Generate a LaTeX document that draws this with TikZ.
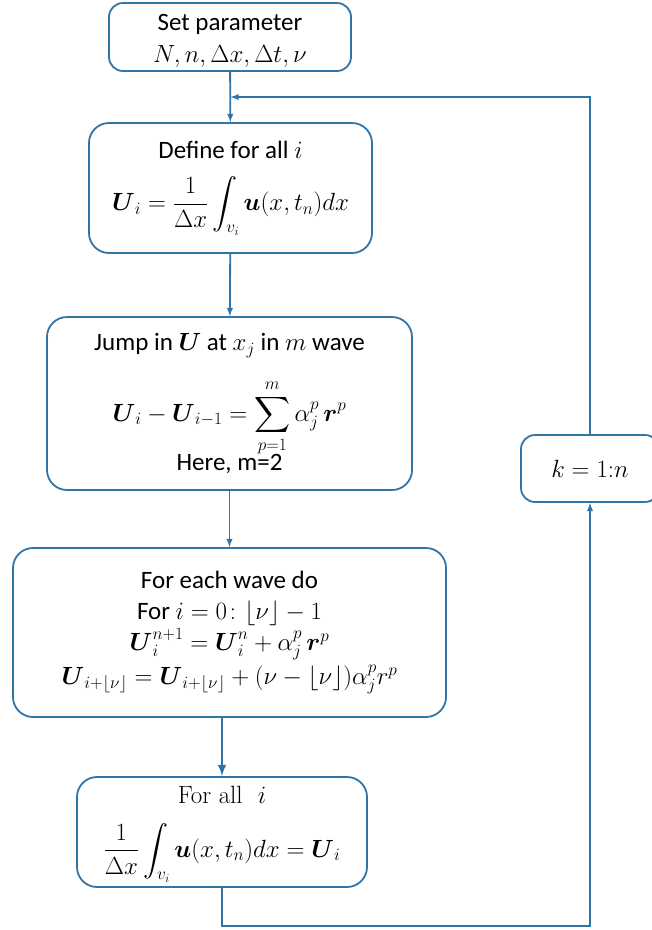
\documentclass[tikz,border=0pt]{standalone}
\usepackage{amsmath,amssymb}
\usepackage{fontspec}
\setmainfont{Carlito}
\newfontfamily\lmserif{Latin Modern Roman}
\usetikzlibrary{arrows}
\definecolor{flowblue}{RGB}{49,117,168}

\begin{document}
\begin{tikzpicture}[x=1pt,y=-1pt,
  stepbox/.style={draw=flowblue, line width=1.8pt, rounded corners=20pt, align=center,
    inner sep=0pt, font=\fontsize{25}{31}\selectfont},
  flow/.style={color=flowblue, line width=1.8pt}]
\useasboundingbox (0,0) rectangle (652,930);

\node[stepbox, minimum width=242pt, minimum height=68pt, rounded corners=14pt] (S) at (230,37)
  {\rule{0pt}{24pt}Set parameter\\[1pt] $N, n, \Delta x, \Delta t, \nu$};

\node[stepbox, minimum width=283pt, minimum height=130pt] (D) at (230.5,188)
  {Define for all $i$\\[17pt]
   $\displaystyle \boldsymbol{U}_i = \frac{1}{\Delta x}\int_{v_i}\boldsymbol{u}(x,t_n)dx$};

\node[stepbox, minimum width=365pt, minimum height=173pt] (J) at (229.5,403.5)
  {Jump in $\boldsymbol{U}$ at $x_j$ in $m$ wave\\[21pt]
   $\displaystyle \boldsymbol{U}_i - \boldsymbol{U}_{i-1} = \sum_{p=1}^{m}\alpha_j^p\,\boldsymbol{r}^p$\\[-3pt]
   Here, m=2};

\node[stepbox, minimum width=433pt, minimum height=169pt] (W) at (229.5,632.5)
  {For each wave do\\
   For $i = 0\colon\lfloor\nu\rfloor - 1$\\
   $\boldsymbol{U}_i^{n+1} = \boldsymbol{U}_i^{n} + \alpha_j^p\,\boldsymbol{r}^p$\\[3pt]
   $\boldsymbol{U}_{i+\lfloor\nu\rfloor} = \boldsymbol{U}_{i+\lfloor\nu\rfloor} + (\nu-\lfloor\nu\rfloor)\alpha_j^p r^p$};

\node[stepbox, minimum width=290pt, minimum height=110pt] (A) at (222,832)
  {\rule{0pt}{22pt}{\lmserif For all~ }$i$\\[18pt]
   $\displaystyle \frac{1}{\Delta x}\int_{v_i}\boldsymbol{u}(x,t_n)dx = \boldsymbol{U}_i$};

\node[stepbox, minimum width=138pt, minimum height=67pt, rounded corners=14pt] (K) at (590,468.5)
  {$k = 1{:}n$};

\coordinate (join) at (230.5,97);
\coordinate (low) at (222,926);

\draw[->, flow, >=latex] (S) -- (D);
\draw[->, flow, >=latex] (D) -- (J);
\draw[->, flow, >=latex] (J) -- (W);
\draw[->, flow, >=latex, line width=2.8pt] (W.south -| A.north) -- (A);

\draw[->, flow, >=latex] (K.north) |- (join);
\draw[->, flow, >=latex] (A.south) -- (low) -| (K.south);
\end{tikzpicture}
\end{document}
